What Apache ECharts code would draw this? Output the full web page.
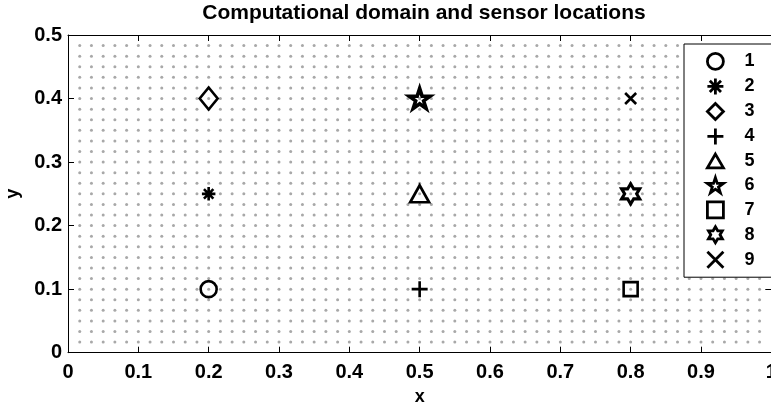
<!DOCTYPE html>
<html>
<head>
<meta charset="utf-8">
<script src="https://cdn.jsdelivr.net/npm/echarts@6/dist/echarts.min.js"></script>
<style>html,body{margin:0;padding:0;background:#fff}#c{width:771px;height:410px}</style>
</head>
<body>
<div id="c"></div>
<script>
// ---- data ----
const chartTitle = 'Computational domain and sensor locations';
const xTicks = [0, 0.1, 0.2, 0.3, 0.4, 0.5, 0.6, 0.7, 0.8, 0.9, 1];
const yTicks = [0, 0.1, 0.2, 0.3, 0.4, 0.5];
// computational mesh: uniform spacing 1/60 in both directions (interior nodes)
const meshCols = 60;
const meshRows = 30;
const meshStep = 1 / 60;
// sensors
const sensorNames = ['1', '2', '3', '4', '5', '6', '7', '8', '9'];
const sensorX = [0.2, 0.2, 0.2, 0.5, 0.5, 0.5, 0.8, 0.8, 0.8];
const sensorY = [0.1, 0.25, 0.4, 0.1, 0.25, 0.4, 0.1, 0.25, 0.4];

// ---- marker shapes (styling) ----
const SYM = {
  circle: 'circle',
  asterisk: 'path://M0 50 L100 50 M50 0 L50 100 M15 15 L85 85 M15 85 L85 15',
  diamond: 'path://M50 0 L100 50 L50 100 L0 50 Z',
  plus: 'path://M0 50 L100 50 M50 0 L50 100',
  triangle: 'path://M50 0 L100 86 L0 86 Z',
  pentagram: 'path://M50 0 L61.23 34.55 L97.55 34.55 L68.16 55.9 L79.39 90.45 L50 69.1 L20.61 90.45 L31.84 55.9 L2.45 34.55 L38.77 34.55 Z',
  square: 'path://M0 0 L100 0 L100 100 L0 100 Z',
  hexagram: 'path://M50 0 L64.43 25 L93.3 25 L78.87 50 L93.3 75 L64.43 75 L50 100 L35.57 75 L6.7 75 L21.13 50 L6.7 25 L35.57 25 Z',
  cross: 'path://M0 0 L100 100 M0 100 L100 0'
};
const sensorSymbols = [SYM.circle, SYM.asterisk, SYM.diamond, SYM.plus, SYM.triangle, SYM.pentagram, SYM.square, SYM.hexagram, SYM.cross];
const sensorSizes = [16, 13.5, [18, 22], 16, [19, 17], [21, 20], 14, [18, 20], 11];
const sensorStroke = [2.6, 2.6, 2.6, 2.6, 2.6, 3.6, 2.6, 3.2, 2.6];

const meshPoints = [];
for (let i = 1; i < meshCols; i++) {
  for (let j = 1; j < meshRows; j++) {
    meshPoints.push([i * meshStep, j * meshStep]);
  }
}

const FONT = '"Liberation Sans", Arial, sans-serif';
const chart = echarts.init(document.getElementById('c'), null, {renderer: 'canvas'});

const series = [{
  type: 'scatter',
  name: 'mesh',
  data: meshPoints,
  symbol: 'circle',
  symbolSize: 3,
  itemStyle: {color: '#a8a8a8', opacity: 1},
  silent: true,
  z: 1,
  animation: false
}];
sensorNames.forEach((n, k) => {
  series.push({
    type: 'scatter',
    name: n,
    data: [[sensorX[k], sensorY[k]]],
    symbol: sensorSymbols[k],
    symbolSize: sensorSizes[k],
    itemStyle: {color: 'transparent', borderColor: '#000', borderWidth: sensorStroke[k], opacity: 1},
    z: 3,
    animation: false
  });
});

const axisCommon = {
  axisLine: {show: true, onZero: false, lineStyle: {color: '#000', width: 1}},
  axisTick: {show: true, inside: true, length: 6, lineStyle: {color: '#000', width: 1}},
  splitLine: {show: false}
};

chart.setOption({
  animation: false,
  backgroundColor: '#fff',
  title: {
    text: chartTitle,
    left: 419, textAlign: 'center', top: -2,
    textStyle: {fontFamily: FONT, fontWeight: 'bold', fontSize: 21, color: '#000'}
  },
  grid: {left: 68, top: 35, width: 703.3, height: 317.7, containLabel: false, outerBoundsMode: 'none'},
  legend: {
    data: sensorNames,
    orient: 'vertical',
    left: 684, top: 44,
    padding: [8, 40, 8, 22],
    itemWidth: 16, itemHeight: 16, itemGap: 6.2,
    backgroundColor: '#fff',
    borderColor: '#000', borderWidth: 1, borderRadius: 0,
    itemStyle: {borderWidth: 2.8, borderColor: '#000'},
    textStyle: {fontFamily: FONT, fontWeight: 'bold', fontSize: 18, color: '#000', padding: [0, 0, 0, 16]},
    selectedMode: false
  },
  xAxis: [
    Object.assign({
      type: 'value', min: 0, max: 1, interval: 0.1, position: 'bottom',
      name: 'x', nameLocation: 'middle', nameGap: 33,
      nameTextStyle: {fontFamily: FONT, fontWeight: 'bold', fontSize: 18, color: '#000'},
      axisLabel: {fontFamily: FONT, fontWeight: 'bold', fontSize: 20, color: '#000', margin: 10,
        formatter: v => String(xTicks.find(t => Math.abs(t - v) < 1e-9) ?? v)}
    }, axisCommon),
    Object.assign({
      type: 'value', min: 0, max: 1, interval: 0.1, position: 'top',
      axisLabel: {show: false}
    }, axisCommon)
  ],
  yAxis: [
    Object.assign({
      type: 'value', min: 0, max: 0.5, interval: 0.1, position: 'left',
      name: 'y', nameLocation: 'middle', nameGap: 46, nameRotate: 90,
      nameTextStyle: {fontFamily: FONT, fontWeight: 'bold', fontSize: 18, color: '#000'},
      axisLabel: {fontFamily: FONT, fontWeight: 'bold', fontSize: 20, color: '#000', margin: 6,
        formatter: v => String(yTicks.find(t => Math.abs(t - v) < 1e-9) ?? v)}
    }, axisCommon),
    Object.assign({
      type: 'value', min: 0, max: 0.5, interval: 0.1, position: 'right',
      axisLabel: {show: false}
    }, axisCommon)
  ],
  series: series
});
</script>
</body>
</html>
